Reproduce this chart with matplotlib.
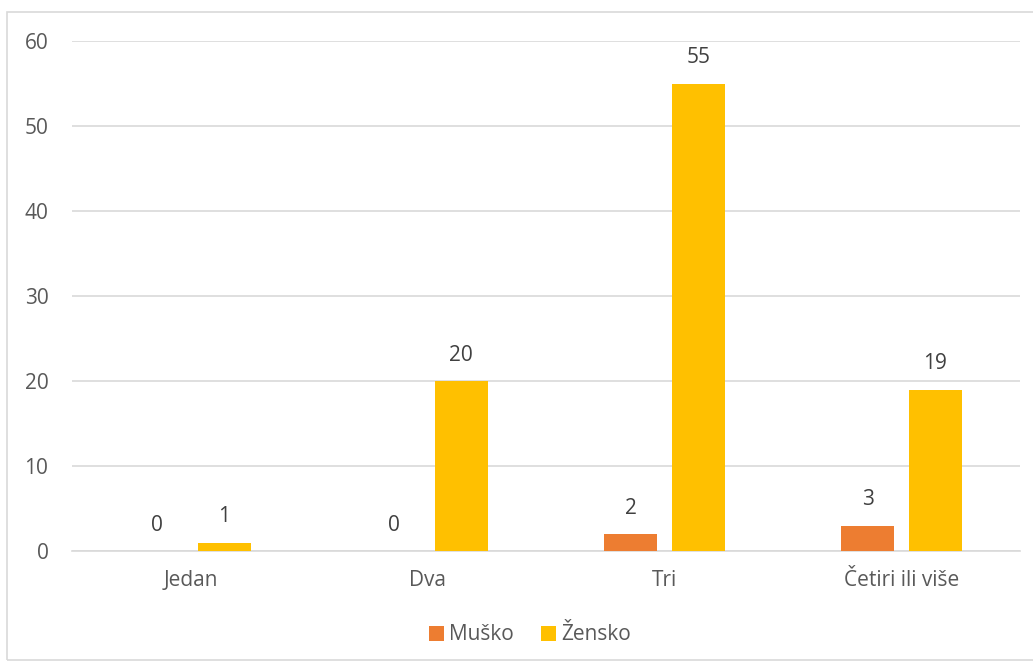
import numpy as np
import matplotlib.pyplot as plt
from matplotlib.patches import Rectangle

plt.rcParams['font.family'] = ['Open Sans', 'DejaVu Sans']

categories = ['Jedan', 'Dva', 'Tri', 'Četiri ili više']
musko = [0, 0, 2, 3]
zensko = [1, 20, 55, 19]
series_names = ['Muško', 'Žensko']
yticks = [0, 10, 20, 30, 40, 50, 60]

grey_text = '#595959'
grid_col = '#D9D9D9'

fig = plt.figure(figsize=(10.33, 6.66), dpi=100)
ax = fig.add_axes([72/1033, 115/666, 948/1033, 510/666])

# outer chart border (right edge runs off the image)
fig.patches.append(Rectangle((7/1033, 6/666), 1.1, 648/666, transform=fig.transFigure,
                             fill=False, edgecolor=grid_col, linewidth=1.2))

x = np.arange(len(categories))
w = 0.224
off = 0.142
b1 = ax.bar(x - off, musko, w, color='#ED7D31', label=series_names[0], zorder=3)
b2 = ax.bar(x + off, zensko, w, color='#FFC000', label=series_names[1], zorder=3)

for bars, vals in ((b1, musko), (b2, zensko)):
    for r, v in zip(bars, vals):
        ax.text(r.get_x() + r.get_width()/2, v + 1.8, str(v), ha='center', va='bottom',
                fontsize=15, color='#404040')

ax.set_xlim(-0.5, len(categories) - 0.5)
ax.set_ylim(0, 60)
ax.set_yticks(yticks)
ax.set_xticks(x)
ax.set_xticklabels(categories)
ax.tick_params(axis='both', length=0, labelsize=15, colors=grey_text)
ax.tick_params(axis='y', pad=17)
ax.tick_params(axis='x', pad=14)
ax.grid(axis='y', color=grid_col, linewidth=1.2, zorder=0)
for s in ['top', 'right', 'left']:
    ax.spines[s].set_visible(False)
ax.spines['bottom'].set_color(grid_col)
ax.spines['bottom'].set_linewidth(1.2)

leg = fig.legend(loc='center', bbox_to_anchor=(530/1033, 1 - 635/666), ncol=2,
                 frameon=False, fontsize=15, handlelength=0.7, handleheight=0.7,
                 handletextpad=0.25, columnspacing=1.3)
for t in leg.get_texts():
    t.set_color(grey_text)

fig.savefig('out.png', dpi=100, facecolor='white')
